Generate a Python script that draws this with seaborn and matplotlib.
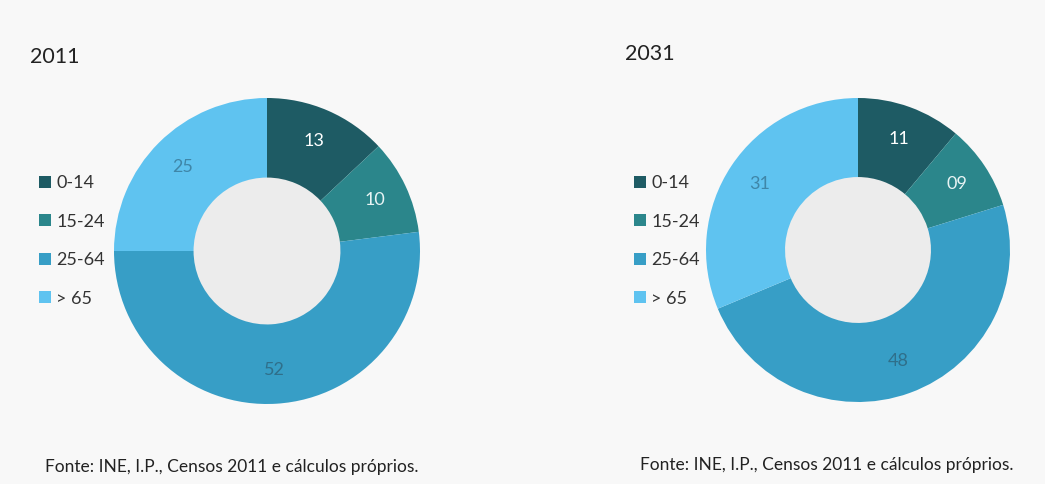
import numpy as np
import matplotlib
matplotlib.use("Agg")
import matplotlib.pyplot as plt
from matplotlib.patches import Patch
import seaborn as sns

# ---- data ----
categories = ["0-14", "15-24", "25-64", "> 65"]
years = ["2011", "2031"]
values_2011 = [13, 10, 52, 25]
values_2031 = [11, 9, 48, 31]
labels_2011 = ["13", "10", "52", "25"]
labels_2031 = ["11", "09", "48", "31"]
source_text = "Fonte: INE, I.P., Censos 2011 e cálculos próprios."

sns.set_theme(style="white")
plt.rcParams["font.family"] = ["Lato", "DejaVu Sans"]

colors = sns.color_palette(["#1e5b64", "#2b868b", "#379ec6", "#5fc3f0"])
label_colors = ["#ffffff", "#e8f4f4", "#2f6f8a", "#3f86a8"]

fig = plt.figure(figsize=(10.45, 4.84), dpi=100, facecolor="#f8f8f8")
W, H = 1045, 484

panels = [
    dict(year=years[0], vals=values_2011, labs=labels_2011, cx=267, cy=251, r=153,
         title_xy=(30, 57), legend_xy=(30, 166), src_xy=(45, 467)),
    dict(year=years[1], vals=values_2031, labs=labels_2031, cx=858, cy=250, r=152,
         title_xy=(625, 54), legend_xy=(625, 166), src_xy=(640, 465)),
]

for p in panels:
    half = p["r"] * 1.1
    ax = fig.add_axes([(p["cx"] - half) / W, 1 - (p["cy"] + half) / H,
                       2 * half / W, 2 * half / H])
    wedges, texts = ax.pie(p["vals"], colors=colors, startangle=90, counterclock=False,
                           radius=1.0, wedgeprops=dict(width=0.52, edgecolor="none"),
                           labels=p["labs"], labeldistance=0.78,
                           textprops=dict(fontsize=13, ha="center", va="center"))
    ax.set_xlim(-1.1, 1.1)
    ax.set_ylim(-1.1, 1.1)
    ax.set_aspect("equal")
    ax.axis("off")
    for t, c in zip(texts, label_colors):
        t.set_color(c)
    # inner hole shading
    hole = plt.Circle((0, 0), 0.48, color="#ececec", zorder=0)
    ax.add_patch(hole)

    fig.text(p["title_xy"][0] / W, 1 - p["title_xy"][1] / H, p["year"],
             fontsize=15.5, color="#222222", ha="left", va="center")
    handles = [Patch(facecolor=c, edgecolor="none", label=l) for c, l in zip(colors, categories)]
    fig.legend(handles=handles, loc="upper left",
               bbox_to_anchor=(p["legend_xy"][0] / W, 1 - p["legend_xy"][1] / H),
               frameon=False, fontsize=13, handlelength=0.65, handleheight=0.65,
               handletextpad=0.3, labelspacing=1.25, borderpad=0, labelcolor="#333333")
    fig.text(p["src_xy"][0] / W, 1 - p["src_xy"][1] / H, source_text,
             fontsize=12.5, color="#222222", ha="left", va="center")

fig.savefig("out.png", dpi=100, facecolor=fig.get_facecolor())
